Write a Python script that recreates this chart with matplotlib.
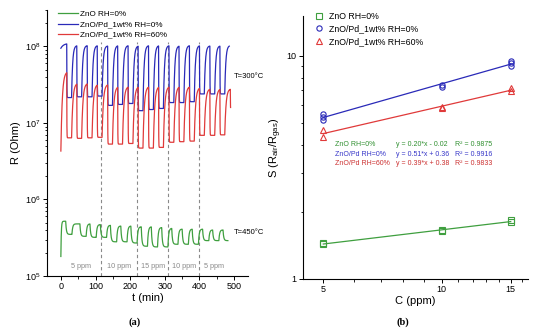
import numpy as np
import matplotlib
matplotlib.use("Agg")
import matplotlib.pyplot as plt
from matplotlib.ticker import LogLocator, FixedLocator, NullFormatter, FixedFormatter

plt.rcParams['font.family'] = ['Liberation Sans', 'DejaVu Sans']
plt.rcParams['mathtext.fontset'] = 'custom'
plt.rcParams['mathtext.rm'] = 'Liberation Sans'
plt.rcParams['mathtext.it'] = 'Liberation Sans:italic'
plt.rcParams['mathtext.bf'] = 'Liberation Sans:bold'

# ---------------- (a) transient response ----------------
# gas-on instants of each exposure cycle (min), T=300 °C runs
gas_on = [17, 46, 76, 105, 135, 164, 194, 223, 253, 282, 312, 341, 371, 400, 430, 459, 489]
exposure = 14

# ZnO/Pd_1wt% RH=0%: level reached in gas, level recovered in air
blue_start, blue_first = 9.5e7, 1.1e8
blue_low = [2.15e7, 2.2e7, 2.2e7, 2.25e7, 1.7e7, 1.75e7, 1.8e7, 1.45e7, 1.5e7, 1.55e7,
            1.85e7, 1.85e7, 1.9e7, 2.4e7, 2.4e7, 2.4e7, 2.4e7]
blue_high = [1.03e8, 1.03e8, 1.03e8, 1.02e8, 1.03e8, 1.03e8, 1.02e8, 1.03e8, 1.03e8, 1.03e8,
             1.02e8, 1.03e8, 1.03e8, 1.02e8, 1.02e8, 1.03e8, 1.03e8]
blue_end = 486

# ZnO/Pd_1wt% RH=60%
red_start, red_first = 4.3e6, 4.7e7
red_low = [6.4e6, 6.3e6, 6.4e6, 6.5e6, 5.3e6, 5.3e6, 5.4e6, 4.7e6, 4.7e6, 4.8e6,
           5.6e6, 5.7e6, 5.8e6, 6.9e6, 6.9e6, 7.0e6, 1.5e7]
red_high = [3.3e7, 3.3e7, 3.2e7, 3.2e7, 3.0e7, 3.0e7, 3.0e7, 3.0e7, 3.0e7, 3.0e7,
            3.0e7, 3.0e7, 2.9e7, 2.8e7, 2.8e7, 2.8e7, 2.8e7]
red_end = 489.8

# ZnO RH=0% at T=450 °C
green_on = [14, 55, 84, 114, 143, 173, 202, 232, 261, 291, 320, 350, 379, 409, 438, 468]
green_exposure = 18
green_start, green_first = 1.8e5, 5.2e5
green_low = [3.5e5, 3.3e5, 3.2e5, 3.2e5, 2.8e5, 2.8e5, 2.7e5, 2.45e5, 2.4e5, 2.4e5,
             2.6e5, 2.6e5, 2.6e5, 2.9e5, 2.9e5, 2.9e5]
green_high = [4.8e5, 4.8e5, 4.7e5, 4.6e5, 4.5e5, 4.5e5, 4.4e5, 4.4e5, 4.3e5, 4.2e5,
              4.1e5, 4.1e5, 4.1e5, 4.0e5, 4.0e5, 4.0e5]
green_end = 482

sections = [0, 115, 220, 310, 400, 485]
section_labels = ['5 ppm', '10 ppm', '15 ppm', '10 ppm', '5 ppm']

# ---------------- (b) sensitivity vs concentration ----------------
conc_zno = [5, 5, 10, 10, 15, 15]
s_zno = [1.45, 1.43, 1.65, 1.64, 1.84, 1.80]
conc_pd0 = [5, 5, 5, 10, 10, 15, 15, 15]
s_pd0 = [5.48, 5.34, 5.16, 7.40, 7.28, 9.50, 9.27, 9.05]
conc_pd60 = [5, 5, 10, 10, 15, 15]
s_pd60 = [4.66, 4.35, 5.92, 5.86, 7.17, 6.95]
fit_text = [
    ('ZnO RH=0%', 'y = 0.20*x - 0.02', 'R² = 0.9875'),
    ('ZnO/Pd RH=0%', 'y = 0.51*x + 0.36', 'R² = 0.9916'),
    ('ZnO/Pd RH=60%', 'y = 0.39*x + 0.38', 'R² = 0.9833'),
]

GREEN = '#3f9f3f'
BLUE = '#2a2ab8'
RED = '#e03a3a'
GREEN_T = '#2f8f2f'
BLUE_T = '#3535c8'
RED_T = '#cc3030'


def response(t, start, first, on, dur, low, high, tau_on, tau_off, tau_first):
    """First-order relaxation (in log R) between the recorded air/gas levels."""
    events = [(0.0, first, tau_first)]
    for k, t0 in enumerate(on):
        events.append((t0, low[k], tau_on))
        events.append((t0 + dur, high[k], tau_off))
    y = np.empty_like(t)
    cur = np.log10(start)
    seg = 0
    t_prev = t[0]
    for i, ti in enumerate(t):
        while seg + 1 < len(events) and ti >= events[seg + 1][0]:
            seg += 1
        target, tau = np.log10(events[seg][1]), events[seg][2]
        dt = ti - t_prev
        cur = target + (cur - target) * np.exp(-dt / tau)
        y[i] = cur
        t_prev = ti
    return 10 ** y


fig = plt.figure(figsize=(5.4, 3.35), dpi=100)

axa = fig.add_axes([47 / 540, 1 - 276 / 335, 201 / 540, 266 / 335])
t_blue = np.arange(0, blue_end, 0.1)
t_red = np.arange(0, red_end, 0.1)
t_green = np.arange(0, green_end, 0.1)
r_blue = response(t_blue, blue_start, blue_first, gas_on, exposure, blue_low, blue_high, 0.35, 3.0, 8)
r_red = response(t_red, red_start, red_first, gas_on, exposure, red_low, red_high, 0.35, 3.6, 4)
r_green = response(t_green, green_start, green_first, green_on, green_exposure,
                   green_low, green_high, 2.0, 2.2, 1.2)

axa.plot(t_green, r_green, color=GREEN, lw=0.9, label='ZnO RH=0%')
axa.plot(t_blue, r_blue, color=BLUE, lw=0.9, label='ZnO/Pd_1wt% RH=0%')
axa.plot(t_red, r_red, color=RED, lw=0.9, label='ZnO/Pd_1wt% RH=60%')

for xb in sections[1:-1]:
    axa.plot([xb, xb], [1e5, 1.15e8], color='#8a8a8a', lw=0.8, ls=(0, (3, 2.5)), zorder=0)
for k, lab in enumerate(section_labels):
    axa.text((sections[k] + sections[k + 1]) / 2, 1.32e5, lab, ha='center', va='center',
             fontsize=5.2, color='#8a8a8a')
axa.text(500, 4.0e7, 'T=300°C', fontsize=5.5, va='center', ha='left')
axa.text(500, 3.65e5, 'T=450°C', fontsize=5.5, va='center', ha='left')

axa.set_yscale('log')
axa.set_ylim(1e5, 3e8)
axa.set_xlim(-40, 540)
axa.xaxis.set_major_locator(FixedLocator([0, 100, 200, 300, 400, 500]))
axa.xaxis.set_minor_locator(FixedLocator([-50, 50, 150, 250, 350, 450, 550]))
axa.yaxis.set_major_locator(LogLocator(base=10, numticks=10))
axa.yaxis.set_minor_locator(LogLocator(base=10, subs=np.arange(2, 10), numticks=10))
axa.yaxis.set_minor_formatter(NullFormatter())
axa.set_xlabel('t (min)', fontsize=8, labelpad=1)
axa.set_ylabel('R (Ohm)', fontsize=8, labelpad=3)
axa.legend(loc='upper left', bbox_to_anchor=(0.04, 1.01), frameon=False, fontsize=5.9,
           handlelength=2.4, handletextpad=0.3, labelspacing=0.3, borderaxespad=0)

# ---------------- (b) ----------------
axb = fig.add_axes([303 / 540, 1 - 279 / 335, 225 / 540, 263 / 335])
mk = dict(ls='none', mfc='none', ms=3.8, mew=0.8)
axb.plot(conc_zno, s_zno, marker='s', color=GREEN, label='ZnO RH=0%', **mk)
axb.plot(conc_pd0, s_pd0, marker='o', color=BLUE, label='ZnO/Pd_1wt% RH=0%', **mk)
axb.plot(conc_pd60, s_pd60, marker='^', color=RED, label='ZnO/Pd_1wt% RH=60%', **mk)

cfit = np.array([5, 15], dtype=float)
for cx, sy, col in [(conc_zno, s_zno, GREEN), (conc_pd0, s_pd0, BLUE), (conc_pd60, s_pd60, RED)]:
    p = np.polyfit(np.log10(cx), np.log10(sy), 1)
    axb.plot(cfit, 10 ** np.polyval(p, np.log10(cfit)), color=col, lw=0.9)

for i, (name, eq, r2) in enumerate(fit_text):
    col = [GREEN_T, BLUE_T, RED_T][i]
    yy = 1 - (145 + 9.5 * i) / 335
    fig.text(335 / 540, yy, name, color=col, fontsize=5.0, va='center')
    fig.text(396 / 540, yy, eq, color=col, fontsize=5.0, va='center')
    fig.text(455 / 540, yy, r2, color=col, fontsize=5.0, va='center')

axb.set_xscale('log')
axb.set_yscale('log')
axb.set_xlim(4.44, 16.6)
axb.set_ylim(1, 15.1)
axb.xaxis.set_major_locator(FixedLocator([5, 10, 15]))
axb.xaxis.set_major_formatter(FixedFormatter(['5', '10', '15']))
axb.xaxis.set_minor_locator(FixedLocator([6, 7, 8, 9, 11, 12, 13, 14, 16]))
axb.xaxis.set_minor_formatter(NullFormatter())
axb.yaxis.set_major_locator(FixedLocator([1, 10]))
axb.yaxis.set_major_formatter(FixedFormatter(['1', '10']))
axb.yaxis.set_minor_locator(FixedLocator([2, 3, 4, 5, 6, 7, 8, 9]))
axb.yaxis.set_minor_formatter(NullFormatter())
axb.set_xlabel('C (ppm)', fontsize=8, labelpad=1)
axb.set_ylabel(r'S (R$_{\mathrm{air}}$/R$_{\mathrm{gas}}$)', fontsize=8, labelpad=2)
axb.legend(loc='upper left', bbox_to_anchor=(0.03, 1.03), frameon=False, fontsize=6.3,
           handlelength=1.2, handletextpad=0.6, labelspacing=0.45, borderaxespad=0)

for ax in (axa, axb):
    for s in ('top', 'right'):
        ax.spines[s].set_visible(False)
    for s in ('left', 'bottom'):
        ax.spines[s].set_linewidth(0.8)
    ax.tick_params(which='major', direction='out', length=3, width=0.7, labelsize=6.5, pad=1.5)
    ax.tick_params(which='minor', direction='out', length=1.8, width=0.6)

fig.text(135 / 540, 1 - 322 / 335, '(a)', fontsize=7.5, fontweight='bold',
         family='Liberation Serif', ha='center', va='center')
fig.text(403 / 540, 1 - 322 / 335, '(b)', fontsize=7.5, fontweight='bold',
         family='Liberation Serif', ha='center', va='center')

fig.savefig('out.png', dpi=100)
